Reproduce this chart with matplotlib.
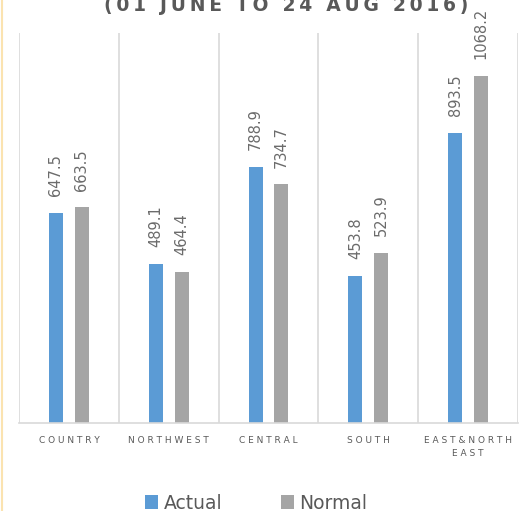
import matplotlib
matplotlib.use("Agg")
import matplotlib.pyplot as plt
import numpy as np
from matplotlib.lines import Line2D

categories = ["COUNTRY", "NORTHWEST", "CENTRAL", "SOUTH", "EAST&NORTH\nEAST"]
actual = [647.5, 489.1, 788.9, 453.8, 893.5]
normal = [663.5, 464.4, 734.7, 523.9, 1068.2]
title = "(01 JUNE TO 24 AUG 2016)"

def spaced(s, sep=" "):
    return "\n".join(sep.join(list(line)) for line in s.split("\n"))

fig = plt.figure(figsize=(5.23, 5.11), dpi=100)
ax = fig.add_axes([19/523, 88/511, 499/523, 390/511])

x = np.arange(len(categories))
w = 0.14
off = 0.13
b1 = ax.bar(x - off, actual, w, color="#5b9bd5", label="Actual")
b2 = ax.bar(x + off, normal, w, color="#a5a5a5", label="Normal")

for bars, vals in ((b1, actual), (b2, normal)):
    for r, v in zip(bars, vals):
        ax.annotate(f"{v:.1f}", (r.get_x() + r.get_width()/2, v),
                    xytext=(0, 12), textcoords="offset points",
                    rotation=90, ha="center", va="bottom",
                    fontsize=10.5, color="#6b6b6b")

ax.set_xlim(-0.5, len(categories) - 0.5)
ax.set_ylim(0, 1200)
ax.set_yticks([])
for b in np.arange(-0.5, len(categories), 1.0):
    ax.axvline(b, color="#d9d9d9", lw=1.2, zorder=0)
for s in ["top", "left", "right"]:
    ax.spines[s].set_visible(False)
ax.spines["bottom"].set_color("#d9d9d9")
ax.spines["bottom"].set_linewidth(1.2)
ax.set_xticks(x)
ax.set_xticklabels([spaced(c) for c in categories], fontsize=6.5,
                   color="#595959", linespacing=1.6)
ax.tick_params(axis="x", length=0, pad=9)

fig.text(0.547, 1 - 11/511, spaced(title, "\u2009"), ha="center", va="baseline",
         fontsize=13.5, fontweight="bold", color="#595959")

fig.legend(handles=[b1, b2], labels=["Actual", "Normal"], loc="center",
           bbox_to_anchor=(0.49, 1 - 503/511), ncol=2, frameon=False,
           fontsize=13.5, handlelength=0.7, handleheight=0.7,
           handletextpad=0.3, columnspacing=3.1, labelcolor="#595959")

fig.add_artist(Line2D([2/523, 2/523], [0, 1], color="#fbe3b0", lw=1.5,
                      transform=fig.transFigure))

fig.savefig("out.png", dpi=100)
